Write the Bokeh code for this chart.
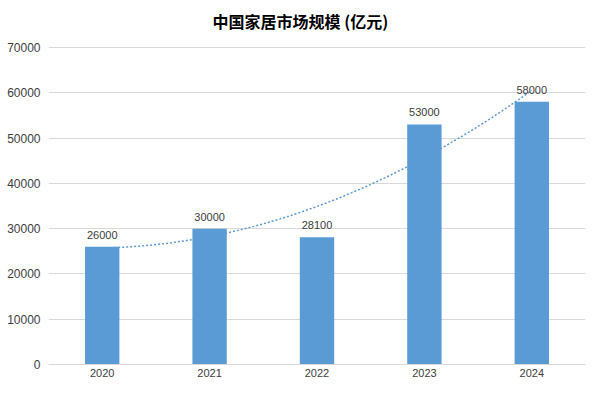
import numpy as np
from bokeh.plotting import figure
from bokeh.models import Range1d, FixedTicker, ColumnDataSource
from bokeh.core.properties import value
from bokeh.embed import file_html
from bokeh.resources import INLINE

years = ["2020", "2021", "2022", "2023", "2024"]
market_size = [26000, 30000, 28100, 53000, 58000]
y_ticks = [0, 10000, 20000, 30000, 40000, 50000, 60000, 70000]
y_max = 70000
title_text = "中国家居市场规模 (亿元)"

xs = list(range(len(years)))
src = ColumnDataSource(dict(x=xs, y=market_size, lab=[str(v) for v in market_size]))

# polynomial (order 2) trendline fitted to the data, as in the original chart
coef = np.polyfit(xs, market_size, 2)
tx = np.linspace(0, len(years) - 1, 100)
ty = np.polyval(coef, tx)

# plot frame spans the whole canvas height above the x axis; the part above
# y_max holds the title (frame: top 0, y_max at 47 px, zero at 364 px)
H, TOP_PAD, ZERO_Y = 381, 47, 364
y_end = y_max + TOP_PAD * y_max / (ZERO_Y - TOP_PAD)

p = figure(width=586, height=H, output_backend="svg", toolbar_location=None,
           x_range=Range1d(-0.5, len(years) - 0.5), y_range=Range1d(0, y_end),
           min_border_left=48, min_border_right=1, min_border_bottom=H - ZERO_Y, min_border_top=0)
p.outline_line_color = None
p.background_fill_color = "white"
p.border_fill_color = "white"

p.xgrid.grid_line_color = None
p.ygrid.grid_line_color = "#d9d9d9"
p.ygrid.ticker = FixedTicker(ticks=y_ticks)

p.yaxis.ticker = FixedTicker(ticks=y_ticks)
p.yaxis.axis_line_color = None
p.yaxis.major_tick_line_color = None
p.yaxis.major_tick_out = 0
p.yaxis.major_tick_in = 0
p.yaxis.minor_tick_line_color = None
p.yaxis.major_label_text_font = "Liberation Sans"
p.yaxis.major_label_text_font_size = "12px"
p.yaxis.major_label_text_color = "#404040"
p.yaxis.major_label_standoff = 8

p.xaxis.ticker = FixedTicker(ticks=xs)
p.xaxis.major_label_overrides = {i: y for i, y in enumerate(years)}
p.xaxis.axis_line_color = "#d9d9d9"
p.xaxis.major_tick_line_color = None
p.xaxis.major_tick_out = 0
p.xaxis.major_tick_in = 0
p.xaxis.minor_tick_line_color = None
p.xaxis.major_label_text_font = "Liberation Sans"
p.xaxis.major_label_text_font_size = "11px"
p.xaxis.major_label_text_color = "#404040"
p.xaxis.major_label_standoff = 4

p.line(tx, ty, line_color="#5B9BD5", line_width=1.5, line_dash="2 2")
p.vbar(x="x", top="y", width=0.32, bottom=0, source=src, fill_color="#5B9BD5", line_color=None)
p.text(x="x", y="y", text="lab", source=src, text_align="center", text_baseline="bottom",
       y_offset=-8, text_font=value("Liberation Sans"), text_font_size="11px", text_color="#404040")

p.text(x=[1.846], y=[y_max], text=[title_text], y_offset=-27, text_align="center",
       text_baseline="middle", text_font=value("Noto Sans CJK SC"), text_font_size="16px",
       text_font_style="bold", text_color="#000000")

open("out.html", "w").write(file_html(p, INLINE))
